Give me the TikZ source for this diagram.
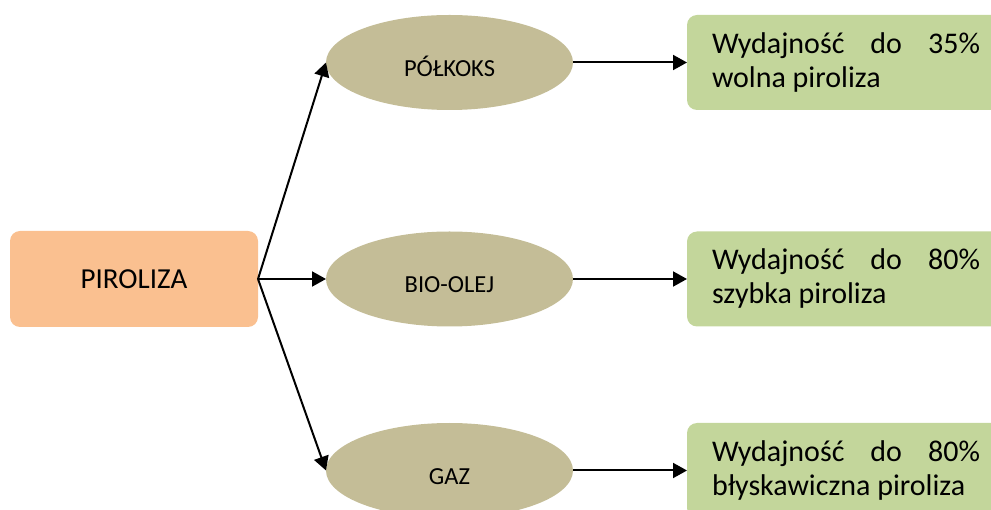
\documentclass[tikz,border=0pt]{standalone}
\usepackage{fontspec}
\setmainfont{Carlito}
\usetikzlibrary{arrows.meta, positioning, shapes}
\definecolor{my_orange}{RGB}{250, 192, 144}
\definecolor{my_khaki}{RGB}{196, 189, 151}
\definecolor{my_green}{RGB}{195, 214, 155}
\tikzset {
  source/.style = {rectangle, rounded corners=10pt, fill=my_orange, minimum width=248pt, minimum height=96pt, font=\fontsize{29}{34}\selectfont},
  product/.style = {ellipse, fill=my_khaki, minimum width=247pt, minimum height=95pt, inner sep=0pt, text height=28pt, text depth=0pt, font=\fontsize{24.5}{28}\selectfont},
  result/.style = {rectangle, rounded corners=10pt, fill=my_green, minimum height=95pt, text width=268pt, align=justify, inner xsep=25pt, font=\fontsize{30}{34}\selectfont},
  line/.style = {-{Triangle[length=14pt, width=15pt]}, line width=2pt, color=black}
}

\begin{document}
\begin{tikzpicture}[x=1pt, y=-1pt, outer sep=0pt]
    \useasboundingbox (0,0) rectangle (991,510);

    \node[source, name=piroliza] (piroliza) at (134,279) {PIROLIZA};

    \node[product, name=biool, right=68pt of piroliza] (biool) {BIO-OLEJ};
    \node[product, name=polkoks, above=121.5pt of biool] (polkoks) {PÓŁKOKS};
    \node[product, name=gaz, below=96.5pt of biool] (gaz) {GAZ};

    \node[result, name=wolna, right=114pt of polkoks] (wolna) {Wydajność do 35\% wolna piroliza};
    \node[result, name=szybka, right=114pt of biool] (szybka) {Wydajność do 80\% szybka piroliza};
    \node[result, name=blysk, right=114pt of gaz] (blysk) {Wydajność do 80\% błyskawiczna piroliza};

    \draw[line] (piroliza.east) -- (polkoks.west);
    \draw[line] (piroliza.east) -- (biool.west);
    \draw[line] (piroliza.east) -- (gaz.west);

    \draw[line] (polkoks) -- (wolna);
    \draw[line] (biool) -- (szybka);
    \draw[line] (gaz) -- (blysk);

\end{tikzpicture}
\end{document}
